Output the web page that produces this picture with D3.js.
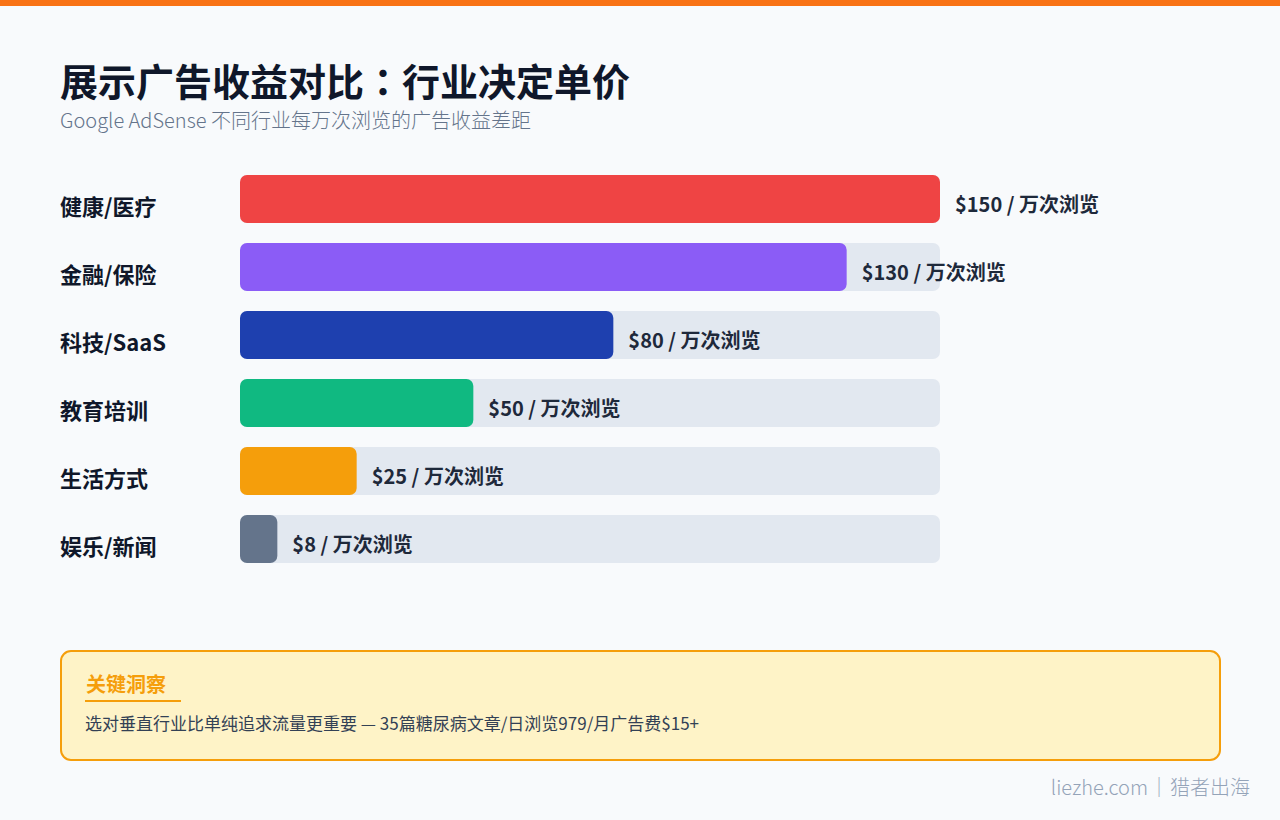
<!DOCTYPE html>
<html><head><meta charset="utf-8">
<script src="https://cdn.jsdelivr.net/npm/d3@7"></script>
<style>html,body{margin:0;padding:0;background:#f8fafc;}svg{display:block;font-family:"Noto Sans CJK SC","Noto Sans",sans-serif;}</style>
</head><body>
<svg id="c" width="1280" height="820"></svg>
<script>
const categories = ["健康/医疗","金融/保险","科技/SaaS","教育培训","生活方式","娱乐/新闻"];
const values = [150,130,80,50,25,8];
const colors = ["#ef4444","#8b5cf6","#1e40af","#10b981","#f59e0b","#64748b"];
const unit = " / 万次浏览";
const titleA = "展示广告收益对比";
const titleColon = "：";
const titleB = "行业决定单价";
const subtitle = "Google AdSense 不同行业每万次浏览的广告收益差距";
const insightTitle = "关键洞察";
const insightText = "选对垂直行业比单纯追求流量更重要 — 35篇糖尿病文章/日浏览979/月广告费$15+";
const footerA = "liezhe.com";
const footerSep = "｜";
const footerB = "猎者出海";

const svg = d3.select("#c");
svg.append("rect").attr("width",1280).attr("height",820).attr("fill","#f8fafc");
svg.append("rect").attr("width",1280).attr("height",6).attr("fill","#f97316");

const t = svg.append("text").attr("x",60).attr("y",96).attr("font-size",38).attr("font-weight",700).attr("fill","#0f172a");
t.append("tspan").text(titleA);
t.append("tspan").style("font-family",'"Noto Sans CJK TC","Noto Sans CJK SC",sans-serif').text(titleColon);
t.append("tspan").text(titleB);
svg.append("text").attr("x",60).attr("y",128).attr("font-size",20).attr("font-weight",300).attr("fill","#64748b").text(subtitle);

const x = d3.scaleLinear().domain([0,150]).range([0,700]);
const y = d3.scaleBand().domain(categories).range([175,563]).paddingInner(20/68).paddingOuter(0);

const g = svg.append("g");
const rows = g.selectAll("g.row").data(categories).join("g").attr("class","row")
  .attr("transform",d=>`translate(0,${y(d)})`);
rows.append("rect").attr("x",240).attr("width",x(150)).attr("height",y.bandwidth()).attr("rx",7).attr("fill","#e2e8f0");
rows.append("rect").attr("x",240).attr("width",(d,i)=>x(values[i])).attr("height",y.bandwidth()).attr("rx",7).attr("fill",(d,i)=>colors[i]);
rows.append("text").attr("x",60).attr("y",40).attr("font-size",22).attr("font-weight",700).attr("fill","#0f172a").text(d=>d);
rows.append("text").attr("x",(d,i)=>240+x(values[i])+15).attr("y",37).attr("font-size",20).attr("font-weight",700).attr("fill","#1e293b").text((d,i)=>"$"+values[i]+unit);

svg.append("rect").attr("x",61).attr("y",651).attr("width",1159).attr("height",109).attr("rx",10)
  .attr("fill","#fef3c7").attr("stroke","#f59e0b").attr("stroke-width",2);
svg.append("text").attr("x",86).attr("y",692).attr("font-size",20).attr("font-weight",700).attr("fill","#f59e0b").text(insightTitle);
svg.append("line").attr("x1",85).attr("x2",181).attr("y1",701).attr("y2",701).attr("stroke","#f59e0b").attr("stroke-width",2);
svg.append("text").attr("x",85).attr("y",730).attr("font-size",17).attr("fill","#334155").text(insightText);

const f = svg.append("text").attr("x",1250).attr("y",795).attr("text-anchor","end").attr("font-size",20).attr("font-weight",300).attr("fill","#94a3b8");
f.append("tspan").text(footerA);
f.append("tspan").attr("dx",1).text(footerSep);
f.append("tspan").attr("dx",1).text(footerB);
</script>
</body></html>
